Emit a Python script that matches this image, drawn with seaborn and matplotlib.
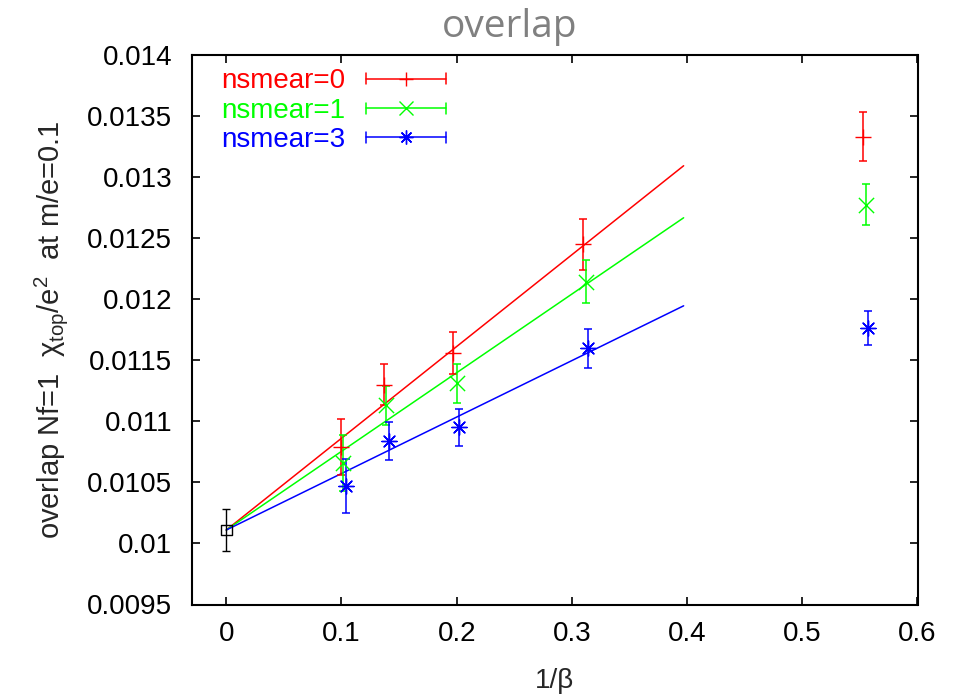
import numpy as np
import pandas as pd
import matplotlib
matplotlib.use("Agg")
import matplotlib.pyplot as plt
import seaborn as sns
from matplotlib.lines import Line2D
from matplotlib.legend_handler import HandlerBase

# ---- data ----
labels = ["nsmear=0", "nsmear=1", "nsmear=3"]
colors = ["#ff0000", "#00ff00", "#0000ff"]
markers = ["+", "x", (8, 2, 0)]

x_n0 = [0.100, 0.137, 0.197, 0.310, 0.553]
y_n0 = [0.01079, 0.01130, 0.01156, 0.01245, 0.01333]
e_n0 = [0.00023, 0.00017, 0.00017, 0.00021, 0.00020]

x_n1 = [0.1015, 0.1385, 0.200, 0.312, 0.555]
y_n1 = [0.01066, 0.01113, 0.01131, 0.012145, 0.012774]
e_n1 = [0.00023, 0.00016, 0.00016, 0.00018, 0.00017]

x_n3 = [0.104, 0.141, 0.202, 0.314, 0.557]
y_n3 = [0.01047, 0.01084, 0.01095, 0.01160, 0.011766]
e_n3 = [0.00022, 0.000155, 0.00015, 0.00016, 0.00014]

x_cont = [0.0]
y_cont = [0.01011]
e_cont = [0.00017]

fit_x = [0.0, 0.397]
fit_n0 = [0.01011, 0.013093]
fit_n1 = [0.01011, 0.012667]
fit_n3 = [0.01011, 0.011946]

xticks = [0, 0.1, 0.2, 0.3, 0.4, 0.5, 0.6]
yticks = [0.0095, 0.01, 0.0105, 0.011, 0.0115, 0.012, 0.0125, 0.013, 0.0135, 0.014]
ytick_labels = ["0.0095", "0.01", "0.0105", "0.011", "0.0115", "0.012", "0.0125", "0.013", "0.0135", "0.014"]

# ---- style ----
sns.set_style("ticks")
plt.rcParams["font.family"] = ["Liberation Sans", "DejaVu Sans"]
plt.rcParams["mathtext.fontset"] = "custom"
plt.rcParams["mathtext.rm"] = "Liberation Sans"
plt.rcParams["mathtext.it"] = "Liberation Sans:italic"

FS = 20

fig = plt.figure(figsize=(9.55, 6.95), dpi=100)
ax = fig.add_axes([191.7 / 955, 1 - 604.5 / 695, (917.5 - 191.7) / 955, (604.5 - 55) / 695])

# fit lines
fit_df = pd.concat([
    pd.DataFrame({"x": fit_x, "y": fit_n0, "s": labels[0]}),
    pd.DataFrame({"x": fit_x, "y": fit_n1, "s": labels[1]}),
    pd.DataFrame({"x": fit_x, "y": fit_n3, "s": labels[2]}),
])
sns.lineplot(data=fit_df, x="x", y="y", hue="s", palette=colors, ax=ax,
             linewidth=1.1, legend=False, estimator=None, sort=False)

# data with error bars
handles = []
for xs, ys, es, c, m, lab in zip([x_n0, x_n1, x_n3], [y_n0, y_n1, y_n3], [e_n0, e_n1, e_n3],
                                 colors, markers, labels):
    ax.errorbar(xs, ys, yerr=es, fmt="none", ecolor=c, elinewidth=1.1, capsize=3, capthick=1.1)
    df = pd.DataFrame({"x": xs, "y": ys})
    sns.scatterplot(data=df, x="x", y="y", ax=ax, marker=m, color=c, s=120,
                    linewidth=1.0, edgecolor=c, legend=False, zorder=5)
    handles.append(Line2D([], [], color=c, marker=m, label=lab))

# continuum extrapolation point
ax.errorbar(x_cont, y_cont, yerr=e_cont, fmt="none", ecolor="black", elinewidth=1.0,
            capsize=3, capthick=1.0)
sns.scatterplot(x=x_cont, y=y_cont, ax=ax, marker="s", s=60, facecolor="none",
                edgecolor="black", linewidth=1.0, zorder=6, legend=False)


class HandlerGP(HandlerBase):
    def create_artists(self, legend, orig_handle, xdescent, ydescent, width, height,
                       fontsize, trans):
        c = orig_handle.get_color()
        m = orig_handle.get_marker()
        y = height / 2.0 - ydescent
        x0, x1 = -xdescent, -xdescent + width
        h = 4.0
        arts = [
            Line2D([x0, x1], [y, y], color=c, lw=1.1),
            Line2D([x0, x0], [y - h, y + h], color=c, lw=1.1),
            Line2D([x1, x1], [y - h, y + h], color=c, lw=1.1),
            Line2D([(x0 + x1) / 2], [y], marker=m, color=c, ms=10, mew=1.0, lw=0),
        ]
        for a in arts:
            a.set_transform(trans)
        return arts


leg = ax.legend(handles=handles, labels=labels, loc="upper left",
                bbox_to_anchor=((221 - 191.7) / 725.8, 1 - (68.5 - 55) / 549.5),
                frameon=False, markerfirst=False, borderpad=0, borderaxespad=0,
                handlelength=2.88, handletextpad=0.75, labelspacing=0.12,
                fontsize=FS, handler_map={Line2D: HandlerGP()})
for t, c in zip(leg.get_texts(), colors):
    t.set_color(c)

ax.set_xlim(-0.03, 0.6)
ax.set_ylim(0.0095, 0.014)
ax.set_xticks(xticks)
ax.set_xticklabels([f"{v:g}" for v in xticks])
ax.set_yticks(yticks)
ax.set_yticklabels(ytick_labels)
ax.tick_params(direction="in", length=6, width=1.2, top=True, right=True,
               labelsize=FS, colors="black")
ax.tick_params(axis="y", pad=14)
ax.tick_params(axis="x", pad=12)
for sp in ax.spines.values():
    sp.set_linewidth(1.5)
    sp.set_color("black")

ax.set_xlabel("1/β", fontsize=FS, labelpad=15)
ax.set_ylabel(r"overlap Nf=1  $\mathrm{χ_{top}/e^2}$  at m/e=0.1", fontsize=21, labelpad=12)

fig.text(510 / 955, 1 - 27 / 695, "overlap", ha="center", va="center",
         fontsize=28, color="#808080", family=["Open Sans", "DejaVu Sans"])

fig.savefig("out.png", dpi=100, facecolor="white")
